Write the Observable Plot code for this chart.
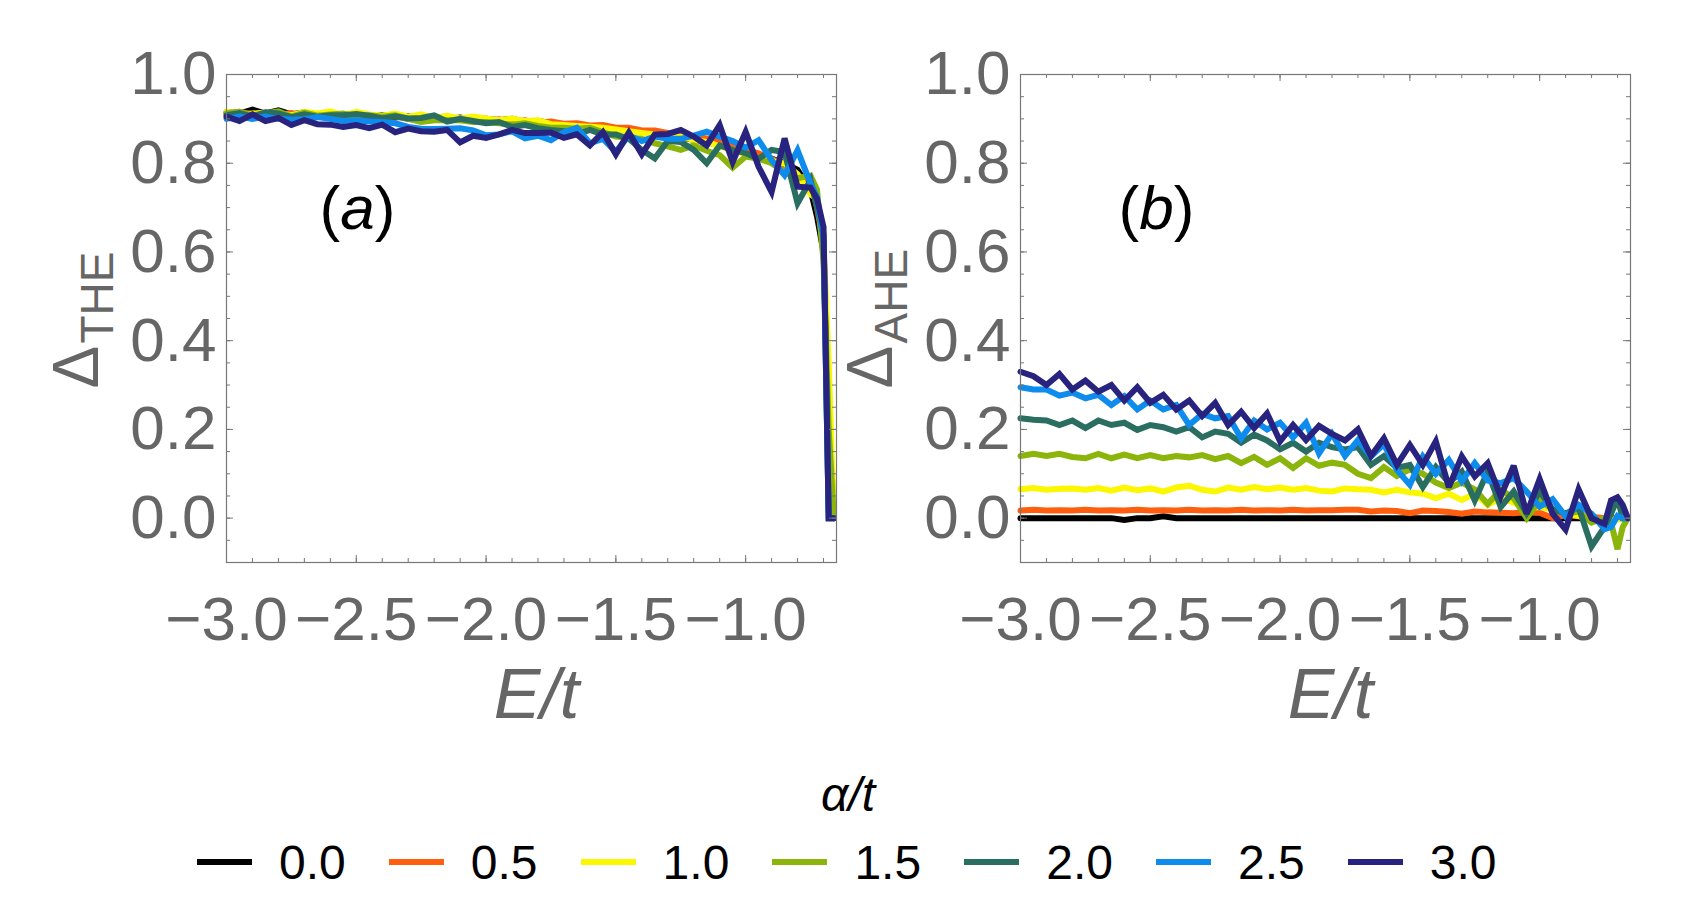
<!DOCTYPE html>
<html>
<head>
<meta charset="utf-8">
<script src="https://cdn.jsdelivr.net/npm/d3@7"></script>
<script src="https://cdn.jsdelivr.net/npm/@observablehq/plot@0.6"></script>
<style>
html, body { margin: 0; padding: 0; background: #fff; }
#root { position: relative; width: 1690px; height: 905px; overflow: hidden; background: #fff;
        font-family: "Liberation Sans", Arial, sans-serif; }
.panel { position: absolute; top: 0; }
#legend-title { position: absolute; left: 0; width: 1696px; top: 771px; text-align: center;
        font-size: 48px; line-height: 48px; font-style: italic; color: #000; }
.sw { position: absolute; top: 859px; width: 55px; height: 6px; }
.lab { position: absolute; top: 839px; font-size: 48px; line-height: 48px; color: #000; }
</style>
</head>
<body>
<div id="root"></div>
<script>
// ---------- data ----------
const E = [-3.00,-2.95,-2.90,-2.85,-2.80,-2.75,-2.70,-2.65,-2.60,-2.55,-2.50,-2.45,-2.40,-2.35,-2.30,-2.25,-2.20,-2.15,-2.10,-2.05,-2.00,-1.95,-1.90,-1.85,-1.80,
           -1.75,-1.70,-1.65,-1.60,-1.55,-1.50,-1.45,-1.40,-1.35,-1.30,-1.25,-1.20,-1.15,-1.10,-1.05,-1.00,-0.95,-0.90,-0.85,-0.80,-0.75,-0.725,-0.70,-0.68,-0.66];

const alphaLabels = ["0.0","0.5","1.0","1.5","2.0","2.5","3.0"];
const alphaColors = ["#000000","#ff5e0e","#fbf700","#8bb50a","#2a6e61","#0e8cee","#28237f"];

// panel (a): Delta_THE
const the00 = [0.915,0.912,0.921,0.912,0.919,0.910,0.915,0.907,0.912,0.905,0.910,0.905,0.908,0.903,0.906,0.900,0.904,0.900,0.903,0.898,0.900,0.897,0.900,0.893,0.895,
               0.890,0.888,0.885,0.883,0.880,0.877,0.873,0.870,0.866,0.863,0.858,0.853,0.848,0.840,0.833,0.825,0.815,0.810,0.800,0.785,0.740,0.680,0.600,0.200,0.000];
const the05 = [0.912,0.916,0.910,0.914,0.909,0.913,0.907,0.911,0.905,0.909,0.904,0.908,0.902,0.906,0.900,0.905,0.899,0.903,0.897,0.901,0.895,0.899,0.893,0.897,0.891,
               0.894,0.889,0.890,0.885,0.886,0.880,0.880,0.874,0.874,0.868,0.866,0.860,0.856,0.848,0.840,0.830,0.822,0.810,0.795,0.770,0.765,0.700,0.620,0.250,0.000];
const the10 = [0.916,0.910,0.912,0.914,0.912,0.908,0.916,0.912,0.917,0.908,0.916,0.910,0.907,0.912,0.905,0.910,0.902,0.907,0.901,0.905,0.901,0.897,0.901,0.895,0.897,
               0.888,0.886,0.884,0.882,0.880,0.876,0.872,0.868,0.865,0.862,0.860,0.852,0.848,0.838,0.830,0.820,0.810,0.805,0.800,0.775,0.730,0.720,0.620,0.350,0.000];
const the15 = [0.912,0.916,0.908,0.912,0.917,0.905,0.914,0.907,0.910,0.912,0.905,0.908,0.905,0.908,0.900,0.893,0.897,0.897,0.897,0.893,0.893,0.890,0.887,0.890,0.884,
               0.880,0.880,0.878,0.880,0.870,0.860,0.858,0.855,0.845,0.838,0.830,0.840,0.828,0.818,0.790,0.815,0.810,0.800,0.780,0.766,0.772,0.740,0.580,0.200,0.000];
const the20 = [0.908,0.913,0.905,0.915,0.912,0.904,0.910,0.905,0.908,0.908,0.911,0.907,0.901,0.906,0.901,0.902,0.908,0.894,0.900,0.895,0.890,0.893,0.882,0.886,0.879,
               0.875,0.872,0.865,0.875,0.865,0.865,0.855,0.830,0.811,0.850,0.848,0.830,0.800,0.840,0.830,0.823,0.810,0.830,0.825,0.710,0.762,0.700,0.640,0.000,0.000];
const the25 = [0.900,0.905,0.900,0.905,0.900,0.898,0.899,0.904,0.900,0.895,0.897,0.894,0.893,0.890,0.882,0.878,0.877,0.878,0.879,0.874,0.863,0.865,0.872,0.856,0.862,
               0.852,0.870,0.880,0.845,0.855,0.826,0.862,0.850,0.860,0.855,0.855,0.862,0.871,0.860,0.850,0.835,0.852,0.807,0.773,0.829,0.754,0.724,0.630,0.000,0.000];
const the30 = [0.905,0.895,0.910,0.895,0.902,0.886,0.897,0.888,0.887,0.882,0.886,0.879,0.887,0.870,0.878,0.872,0.871,0.875,0.847,0.862,0.857,0.865,0.875,0.868,0.868,
               0.869,0.857,0.865,0.840,0.870,0.820,0.869,0.820,0.865,0.866,0.875,0.860,0.840,0.886,0.803,0.871,0.792,0.735,0.856,0.747,0.745,0.720,0.656,0.000,0.000];

// panel (b): Delta_AHE
const ahe00 = [0,0,0,0,0,0,0,0,-0.004,0,0,0.004,0,0,0,0,0,0,0,0,0,0,0,0,0,
               0,0,0,0,0,0,0,0,0,0,0,0,0,0,0,0,0,0,0,0,0,0,0,0,0];
const ahe05 = [0.017,0.019,0.017,0.018,0.017,0.019,0.017,0.018,0.017,0.019,0.017,0.018,0.017,0.019,0.017,0.018,0.017,0.019,0.017,0.018,0.017,0.019,0.017,0.018,0.018,
               0.019,0.019,0.015,0.017,0.016,0.011,0.017,0.016,0.014,0.010,0.015,0.013,0.012,0.011,0.014,0.012,0.000,0.007,0.004,0.003,0.000,0.000,0.000,0.000,0.000];
const ahe10 = [0.065,0.068,0.064,0.066,0.067,0.064,0.068,0.062,0.069,0.063,0.067,0.060,0.069,0.073,0.064,0.060,0.069,0.064,0.070,0.065,0.069,0.064,0.068,0.062,0.060,
               0.067,0.065,0.064,0.058,0.064,0.058,0.055,0.045,0.055,0.041,0.055,0.030,0.045,0.035,0.022,0.025,0.020,0.010,0.005,-0.005,-0.005,-0.003,-0.003,-0.002,0.000];
const ahe15 = [0.140,0.145,0.140,0.145,0.138,0.135,0.145,0.135,0.143,0.135,0.142,0.135,0.140,0.137,0.142,0.133,0.140,0.124,0.138,0.120,0.135,0.113,0.135,0.118,0.125,
               0.120,0.100,0.090,0.115,0.095,0.110,0.100,0.080,0.068,0.080,0.065,0.032,0.064,0.045,0.000,0.040,0.020,0.010,0.015,-0.010,0.000,-0.010,-0.070,-0.020,0.000];
const ahe20 = [0.225,0.222,0.220,0.210,0.220,0.203,0.220,0.210,0.215,0.199,0.210,0.205,0.195,0.205,0.182,0.195,0.190,0.170,0.188,0.175,0.155,0.170,0.150,0.170,0.160,
               0.155,0.160,0.120,0.140,0.113,0.120,0.070,0.115,0.080,0.105,0.040,0.105,0.025,0.060,0.011,0.060,0.020,0.010,0.025,-0.064,-0.020,0.010,0.045,0.000,0.000];
const ahe25 = [0.295,0.290,0.290,0.276,0.283,0.270,0.278,0.255,0.275,0.245,0.265,0.245,0.255,0.210,0.235,0.225,0.230,0.180,0.220,0.200,0.215,0.182,0.215,0.146,0.190,
               0.140,0.176,0.139,0.167,0.109,0.075,0.139,0.100,0.131,0.083,0.124,0.085,0.079,0.090,0.060,0.026,0.043,0.004,0.030,0.010,-0.025,-0.020,0.005,0.000,0.000];
const ahe30 = [0.330,0.320,0.300,0.325,0.290,0.310,0.285,0.300,0.265,0.295,0.260,0.278,0.245,0.265,0.230,0.260,0.210,0.240,0.203,0.236,0.173,0.210,0.176,0.208,0.190,
               0.175,0.200,0.140,0.180,0.120,0.165,0.120,0.173,0.070,0.139,0.094,0.124,0.049,0.118,0.010,0.088,0.010,-0.026,0.065,0.000,-0.013,0.040,0.047,0.030,0.000];

// ticks
const xMajor = [-3.0,-2.5,-2.0,-1.5,-1.0];
const xMinor = [-3.0,-2.9,-2.8,-2.7,-2.6,-2.5,-2.4,-2.3,-2.2,-2.1,-2.0,-1.9,-1.8,-1.7,-1.6,-1.5,-1.4,-1.3,-1.2,-1.1,-1.0,-0.9,-0.8,-0.7];
const yMajor = [0.0,0.2,0.4,0.6,0.8,1.0];
const yMinor = [-0.1,-0.05,0.0,0.05,0.1,0.15,0.2,0.25,0.3,0.35,0.4,0.45,0.5,0.55,0.6,0.65,0.7,0.75,0.8,0.85,0.9,0.95,1.0];

// ---------- drawing ----------
const W = 847, H = 740, mL = 226, mR = 11, mT = 74, mB = 178;
const innerW = W - mL - mR, innerH = H - mT - mB;
const gray = "#666666", frameGray = "#777777";
const fmt = d3.format(".1f");

function panel(seriesList, sub, tag, tagDx) {
  const marks = [];
  // data lines
  seriesList.forEach((vals, i) => {
    const rows = E.map((e, j) => ({E: e, v: vals[j]}));
    marks.push(Plot.line(rows, {x: "E", y: "v", stroke: alphaColors[i], strokeWidth: 6, strokeLinejoin: "miter", strokeMiterlimit: 3}));
  });
  // frame and inward ticks
  marks.push(Plot.frame({stroke: frameGray, strokeWidth: 1.2}));
  marks.push(Plot.tickY(yMinor, {y: d => d, stroke: frameGray, insetRight: innerW - 4}));
  marks.push(Plot.tickY(yMinor, {y: d => d, stroke: frameGray, insetLeft: innerW - 4}));
  marks.push(Plot.tickY(yMajor, {y: d => d, stroke: frameGray, insetRight: innerW - 7}));
  marks.push(Plot.tickY(yMajor, {y: d => d, stroke: frameGray, insetLeft: innerW - 7}));
  marks.push(Plot.tickX(xMinor, {x: d => d, stroke: frameGray, insetTop: innerH - 4}));
  marks.push(Plot.tickX(xMinor, {x: d => d, stroke: frameGray, insetBottom: innerH - 4}));
  marks.push(Plot.tickX(xMajor, {x: d => d, stroke: frameGray, insetTop: innerH - 7}));
  marks.push(Plot.tickX(xMajor, {x: d => d, stroke: frameGray, insetBottom: innerH - 7}));
  // tick labels
  marks.push(Plot.axisY(yMajor, {anchor: "left", tickSize: 0, tickPadding: 10, tickFormat: fmt, fontSize: 62, color: gray, fill: gray, label: null}));
  marks.push(Plot.axisX(xMajor, {anchor: "bottom", tickSize: 0, tickPadding: 33, tickFormat: fmt, fontSize: 62, color: gray, fill: gray, label: null}));
  // axis titles
  marks.push(Plot.text(["Δ"], {frameAnchor: "left", dx: -129, dy: 70, rotate: -90, textAnchor: "start", lineAnchor: "bottom", fontSize: 64, fill: gray}));
  marks.push(Plot.text([sub], {frameAnchor: "left", dx: -114, dy: 25, rotate: -90, textAnchor: "start", lineAnchor: "bottom", fontSize: 46, fill: gray}));
  marks.push(Plot.text(["E/t"], {frameAnchor: "bottom", dx: 5, dy: 155, lineAnchor: "bottom", fontSize: 70, fontStyle: "italic", fill: gray}));
  // panel tag
  marks.push(Plot.text([tag], {frameAnchor: "top-left", dx: tagDx, dy: 154, textAnchor: "middle", lineAnchor: "bottom", fontSize: 62, fill: "#000"}));

  const svg = Plot.plot({
    width: W, height: H,
    marginLeft: mL, marginRight: mR, marginTop: mT, marginBottom: mB,
    x: {domain: [-3.0, -0.65]},
    y: {domain: [-0.1, 1.0]},
    style: {background: "transparent", overflow: "visible", fontFamily: "'Liberation Sans', Arial, sans-serif", fontSize: "62px"},
    marks
  });
  // italic letter inside the panel tag
  d3.select(svg).selectAll("text").filter(function () { return this.textContent === tag; }).each(function () {
    const t = d3.select(this);
    t.text(null);
    t.append("tspan").text("(");
    t.append("tspan").attr("font-style", "italic").text(tag.slice(1, -1));
    t.append("tspan").text(")");
  });
  return svg;
}

const root = document.getElementById("root");

const svgA = panel([the00, the05, the10, the15, the20, the25, the30], "THE", "(a)", 131);
svgA.classList.add("panel");
svgA.style.left = "0px";
root.appendChild(svgA);

const svgB = panel([ahe00, ahe05, ahe10, ahe15, ahe20, ahe25, ahe30], "AHE", "(b)", 136);
svgB.classList.add("panel");
svgB.style.left = "794px";
root.appendChild(svgB);

// legend
const title = document.createElement("div");
title.id = "legend-title";
title.textContent = "α/t";
root.appendChild(title);

alphaLabels.forEach((lab, i) => {
  const L = 197 + i * 191.8;
  const sw = document.createElement("div");
  sw.className = "sw";
  sw.style.left = L + "px";
  sw.style.background = alphaColors[i];
  root.appendChild(sw);
  const tx = document.createElement("div");
  tx.className = "lab";
  tx.style.left = (L + 82) + "px";
  tx.textContent = lab;
  root.appendChild(tx);
});
</script>
</body>
</html>
